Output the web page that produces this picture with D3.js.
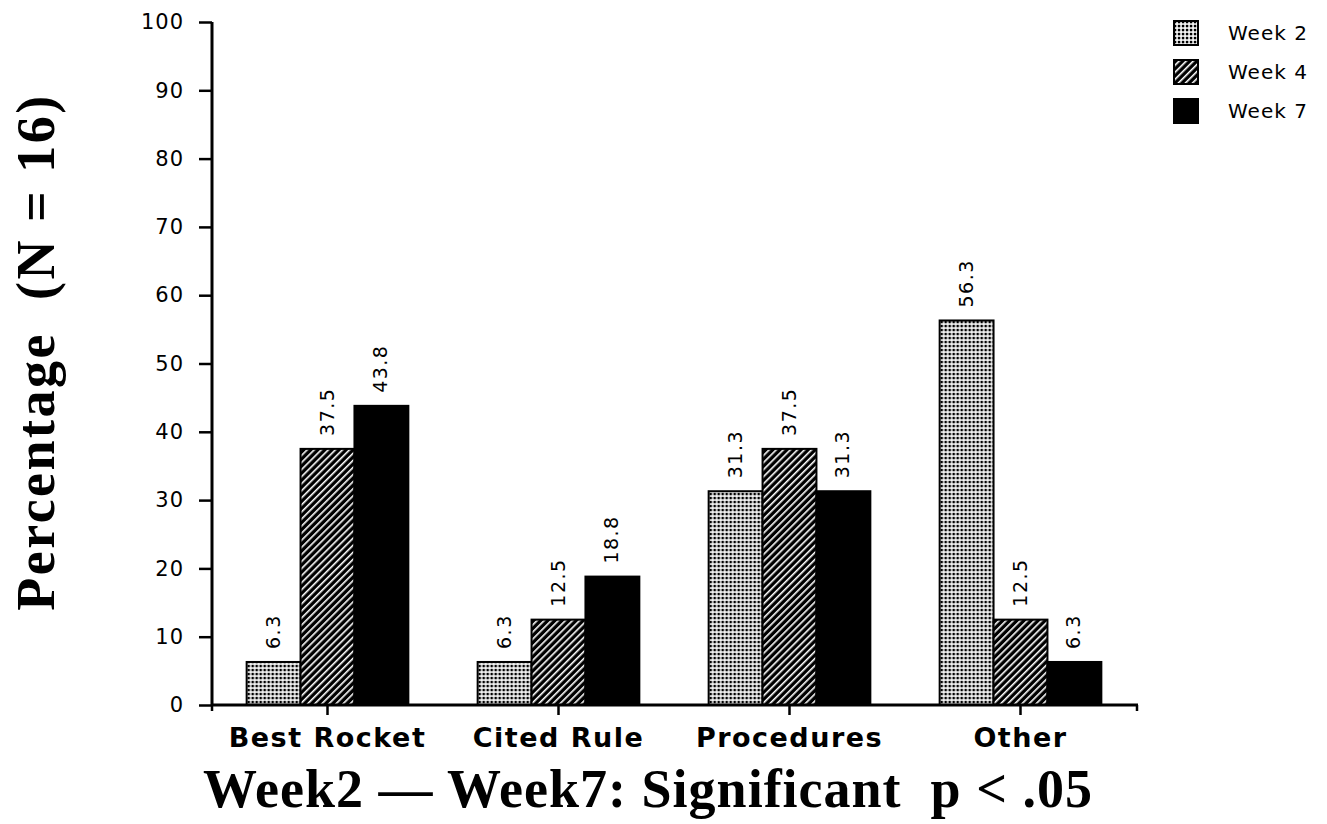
<!DOCTYPE html>
<html>
<head>
<meta charset="utf-8">
<script src="https://cdn.jsdelivr.net/npm/d3@7"></script>
<style>
  html, body { margin: 0; padding: 0; background: #fff; }
  svg { display: block; }
</style>
</head>
<body>
<svg id="chart" width="1327" height="824"></svg>
<script>
const categories = ["Best Rocket", "Cited Rule", "Procedures", "Other"];
const seriesNames = ["Week 2", "Week 4", "Week 7"];
const week2 = [6.3, 6.3, 31.3, 56.3];
const week4 = [37.5, 12.5, 37.5, 12.5];
const week7 = [43.8, 18.8, 31.3, 6.3];
const yTicks = [0, 10, 20, 30, 40, 50, 60, 70, 80, 90, 100];
const xTitle = "Week2 \u2014 Week7: Significant\u00a0\u00a0p < .05";
const yTitle = "Percentage\u00a0\u00a0(N = 16)";

const seriesValues = [week2, week4, week7];

const svg = d3.select("#chart");
const defs = svg.append("defs");

// Dotted pattern (Week 2)
const pDots = defs.append("pattern").attr("id", "dots")
  .attr("patternUnits", "userSpaceOnUse").attr("width", 4).attr("height", 4);
pDots.append("rect").attr("width", 4).attr("height", 4).attr("fill", "#fff");
pDots.append("rect").attr("x", 0.8).attr("y", 0.8).attr("width", 2.5).attr("height", 2.5).attr("fill", "#000");

// Hatch pattern (Week 4)
const pHatch = defs.append("pattern").attr("id", "hatch")
  .attr("patternUnits", "userSpaceOnUse").attr("width", 5).attr("height", 5)
  .attr("patternTransform", "rotate(45)");
pHatch.append("rect").attr("width", 5).attr("height", 5).attr("fill", "#000");
pHatch.append("rect").attr("x", 0).attr("y", 0).attr("width", 1.6).attr("height", 5).attr("fill", "#fff");

const fills = ["url(#dots)", "url(#hatch)", "#000"];

const x0 = d3.scaleBand().domain(categories).range([212, 1136]).paddingInner(0.3).paddingOuter(0.15);
const x1 = d3.scaleBand().domain(seriesNames).range([0, x0.bandwidth()]).padding(0);
const y = d3.scaleLinear().domain([0, 100]).range([705, 22]);

// Bars
const groups = svg.append("g").selectAll("g").data(categories).join("g")
  .attr("transform", d => `translate(${x0(d)},0)`);

groups.each(function(cat, ci) {
  const g = d3.select(this);
  seriesNames.forEach((s, si) => {
    const v = seriesValues[si][ci];
    g.append("rect")
      .attr("x", x1(s))
      .attr("y", y(v))
      .attr("width", x1.bandwidth())
      .attr("height", y(0) - y(v))
      .attr("fill", fills[si])
      .attr("stroke", "#000")
      .attr("stroke-width", 2);
    const cx = x1(s) + x1.bandwidth() / 2;
    g.append("text")
      .attr("transform", `translate(${cx + 6},${y(v) - 13}) rotate(-90)`)
      .attr("font-family", "DejaVu Sans, sans-serif")
      .attr("font-size", 19)
      .attr("letter-spacing", 1.5)
      .attr("fill", "#000")
      .text(v.toFixed(1));
  });
});

// Y axis
const yAxis = d3.axisLeft(y).tickValues(yTicks).tickSize(13).tickPadding(15).tickFormat(d3.format("d"));
const gy = svg.append("g").attr("transform", "translate(212,0)").call(yAxis);
gy.select(".domain").attr("d", `M0,${y(100)}V${y(0)}`).attr("stroke-width", 3);
gy.selectAll(".tick line").attr("stroke-width", 2.5);
gy.selectAll(".tick text")
  .attr("font-family", "DejaVu Sans, sans-serif")
  .attr("font-size", 21)
  .attr("letter-spacing", 1)
  .attr("fill", "#000");

// X axis
const xAxis = d3.axisBottom(x0).tickSize(10).tickPadding(13).tickSizeOuter(0);
const gx = svg.append("g").attr("transform", `translate(0,${y(0)})`).call(xAxis);
gx.select(".domain").attr("d", "M212,0H1138").attr("stroke-width", 3);
gx.selectAll(".tick line").attr("stroke-width", 2.5);
gx.selectAll(".tick text")
  .attr("font-family", "DejaVu Sans, sans-serif")
  .attr("font-weight", "bold")
  .attr("font-size", 27)
  .attr("letter-spacing", 1.5)
  .attr("fill", "#000");
// end ticks of x axis
[212, 1137].forEach(px => {
  gx.append("line").attr("x1", px).attr("x2", px).attr("y1", 0).attr("y2", 6)
    .attr("stroke", "#000").attr("stroke-width", 2.5);
});

// Axis titles
svg.append("text")
  .attr("x", 648).attr("y", 807)
  .attr("text-anchor", "middle")
  .attr("font-family", "Liberation Serif, Times New Roman, serif")
  .attr("font-weight", "bold")
  .attr("font-size", 54)
  .attr("letter-spacing", 1)
  .attr("fill", "#000")
  .text(xTitle);

svg.append("text")
  .attr("transform", "translate(54,352) rotate(-90)")
  .attr("text-anchor", "middle")
  .attr("font-family", "Liberation Serif, Times New Roman, serif")
  .attr("font-weight", "bold")
  .attr("font-size", 54)
  .attr("letter-spacing", 2.5)
  .attr("fill", "#000")
  .text(yTitle);

// Legend
const legend = svg.append("g").attr("transform", "translate(1173,20)");
seriesNames.forEach((s, i) => {
  const row = legend.append("g").attr("transform", `translate(0,${i * 39})`);
  row.append("rect").attr("x", 1).attr("y", 1).attr("width", 24).attr("height", 24)
    .attr("fill", fills[i]).attr("stroke", "#000").attr("stroke-width", 2);
  row.append("text").attr("x", 55).attr("y", 20)
    .attr("font-family", "DejaVu Sans, sans-serif")
    .attr("font-size", 20)
    .attr("letter-spacing", 1)
    .attr("fill", "#000")
    .text(s);
});
</script>
</body>
</html>
